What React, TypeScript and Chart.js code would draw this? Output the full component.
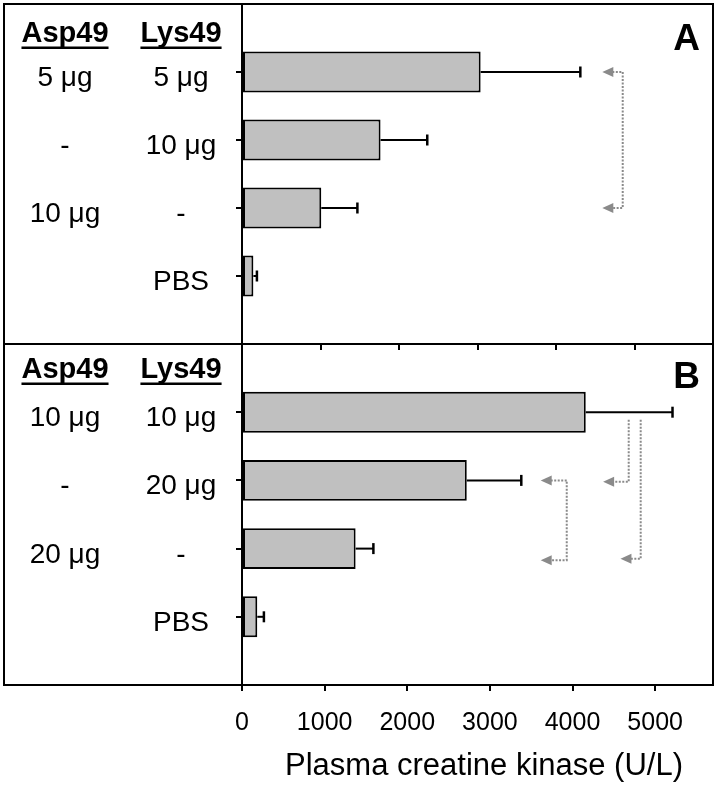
import React, { useEffect, useRef } from "react";
import { Chart, registerables } from "chart.js";

Chart.register(...registerables);

const FONT = '"Liberation Sans", Arial, Helvetica, sans-serif';

// ---------- data ----------
const headers = ["Asp49", "Lys49"];
const panelLetters = ["A", "B"];

const categoriesA = ["", "5/5", "0/10", "10/0", "PBS", ""];
const aspA = ["5 μg", "-", "10 μg", ""];
const lysA = ["5 μg", "10 μg", "-", "PBS"];
const meansA = [3040, 1765, 1010, 145];
const sdA = [1270, 595, 460, 45];

const categoriesB = ["", "10/10", "0/20", "20/0", "PBS", ""];
const aspB = ["10 μg", "-", "20 μg", ""];
const lysB = ["10 μg", "20 μg", "-", "PBS"];
const meansB = [4160, 2720, 1375, 185];
const sdB = [1050, 660, 215, 80];

const xMaxA = 6000;
const xMaxB = 5700;
const xTicksA = [0, 1000, 2000, 3000, 4000, 5000, 6000];
const xTicksB = [0, 1000, 2000, 3000, 4000, 5000];
const xTitle = "Plasma creatine kinase (U/L)";

// significance connectors: x = vertical line value, tip = arrow tip value,
// from/to = category positions (fractional), arrows at the ends
const bracketsA = [{ x: 4850, tip: 4590, from: 1, to: 3, arrowFrom: true, arrowTo: true }];
const bracketsB = [
  { x: 4680, tip: 4370, from: 1.11, to: 2.02, arrowFrom: false, arrowTo: true },
  { x: 4825, tip: 4580, from: 1.11, to: 3.15, arrowFrom: false, arrowTo: true },
  { x: 3930, tip: 3615, from: 2.0, to: 3.17, arrowFrom: true, arrowTo: true },
];

// ---------- styling ----------
const W = 719;
const FRAME_LEFT = 4;
const COL1_X = 65;
const COL2_X = 181;
const BAR_FILL = "#c0c0c0";
const ARROW_COLOR = "#8a8a8a";

type Bracket = { x: number; tip: number; from: number; to: number; arrowFrom: boolean; arrowTo: boolean };

interface PanelCfg {
  top: number;
  height: number;
  categories: string[];
  asp: string[];
  lys: string[];
  means: number[];
  sd: number[];
  xMax: number;
  xTicks: number[];
  brackets: Bracket[];
  letter: string;
  showAxisLabels: boolean;
  xAxisHeight: number;
  headerBase: number;
  letterBase: number;
  drawTop: boolean;
}

function panelPlugin(cfg: PanelCfg) {
  return {
    id: "panelDecor" + cfg.letter,
    afterDatasetsDraw(chart: any) {
      const ctx = chart.ctx;
      const xs = chart.scales.x;
      const ys = chart.scales.y;
      ctx.save();
      // error bars
      ctx.strokeStyle = "#000";
      cfg.means.forEach((m, i) => {
        const y = ys.getPixelForValue(i + 1);
        const x1 = xs.getPixelForValue(m);
        const x2 = xs.getPixelForValue(m + cfg.sd[i]);
        ctx.lineWidth = 2;
        ctx.beginPath();
        ctx.moveTo(x1, y);
        ctx.lineTo(x2, y);
        ctx.stroke();
        ctx.lineWidth = 2.5;
        ctx.beginPath();
        ctx.moveTo(x2, y - 5.5);
        ctx.lineTo(x2, y + 5.5);
        ctx.stroke();
      });
      // brackets
      const arrow = (tipX: number, y: number) => {
        ctx.fillStyle = ARROW_COLOR;
        ctx.beginPath();
        ctx.moveTo(tipX, y);
        ctx.lineTo(tipX + 11, y - 5);
        ctx.lineTo(tipX + 11, y + 5);
        ctx.closePath();
        ctx.fill();
      };
      cfg.brackets.forEach((b) => {
        const vx = xs.getPixelForValue(b.x);
        const tx = xs.getPixelForValue(b.tip);
        const y1 = ys.getPixelForValue(b.from);
        const y2 = ys.getPixelForValue(b.to);
        ctx.strokeStyle = ARROW_COLOR;
        ctx.lineWidth = 2;
        ctx.setLineDash([2, 1.5]);
        ctx.beginPath();
        if (b.arrowFrom) {
          ctx.moveTo(tx + 10, y1);
          ctx.lineTo(vx, y1);
        } else {
          ctx.moveTo(vx, y1);
        }
        ctx.lineTo(vx, y2);
        if (b.arrowTo) ctx.lineTo(tx + 10, y2);
        ctx.stroke();
        ctx.setLineDash([]);
        if (b.arrowFrom) arrow(tx, y1);
        if (b.arrowTo) arrow(tx, y2);
      });
      ctx.restore();
    },
    afterDraw(chart: any) {
      const ctx = chart.ctx;
      const ca = chart.chartArea;
      const ys = chart.scales.y;
      ctx.save();
      // frame
      ctx.strokeStyle = "#000";
      ctx.lineWidth = 2;
      ctx.beginPath();
      if (cfg.drawTop) {
        ctx.moveTo(FRAME_LEFT - 1, ca.top);
        ctx.lineTo(ca.right + 1, ca.top);
      }
      ctx.moveTo(FRAME_LEFT, ca.top);
      ctx.lineTo(FRAME_LEFT, ca.bottom);
      ctx.moveTo(ca.right, ca.top);
      ctx.lineTo(ca.right, ca.bottom);
      ctx.moveTo(FRAME_LEFT - 1, ca.bottom);
      ctx.lineTo(ca.right + 1, ca.bottom);
      ctx.stroke();

      // headers
      ctx.fillStyle = "#000";
      ctx.textBaseline = "alphabetic";
      ctx.textAlign = "center";
      ctx.font = `bold 29px ${FONT}`;
      const hb = ca.top + cfg.headerBase;
      [COL1_X, COL2_X].forEach((cx, k) => {
        const t = headers[k];
        ctx.fillText(t, cx, hb);
        const w = ctx.measureText(t).width;
        ctx.fillRect(cx - w / 2, hb + 4.5, w, 2.5);
      });
      // row labels
      ctx.font = `28px ${FONT}`;
      cfg.asp.forEach((t, i) => {
        const y = ys.getPixelForValue(i + 1) + 14;
        if (t) ctx.fillText(t, COL1_X, y);
        if (cfg.lys[i]) ctx.fillText(cfg.lys[i], COL2_X, y);
      });
      // panel letter
      ctx.font = `bold 37px ${FONT}`;
      ctx.textAlign = "right";
      ctx.fillText(cfg.letter, 700, ca.top + cfg.letterBase);
      // axis title
      if (cfg.showAxisLabels) {
        ctx.font = `31px ${FONT}`;
        ctx.textAlign = "center";
        ctx.fillText(xTitle, 484, ca.bottom + 90);
      }
      ctx.restore();
    },
  };
}

function Panel({ cfg }: { cfg: PanelCfg }) {
  const ref = useRef<HTMLCanvasElement | null>(null);
  useEffect(() => {
    if (!ref.current) return;
    const data = [null, ...cfg.means, null];
    const last = cfg.categories.length - 1;
    const chart = new Chart(ref.current, {
      type: "bar",
      data: {
        labels: cfg.categories,
        datasets: [
          {
            data: data as any,
            backgroundColor: BAR_FILL,
            borderColor: "#000",
            borderWidth: 2,
            borderSkipped: false,
            barPercentage: 0.6,
            categoryPercentage: 1,
          },
        ],
      },
      options: {
        indexAxis: "y",
        animation: false,
        responsive: false,
        maintainAspectRatio: false,
        devicePixelRatio: 1,
        layout: { padding: { top: cfg.drawTop ? 4 : 0, right: 6, left: 0, bottom: 0 } },
        plugins: { legend: { display: false }, tooltip: { enabled: false } },
        scales: {
          y: {
            type: "category",
            offset: false,
            afterFit: (s: any) => {
              s.width = 242;
            },
            grid: {
              offset: false,
              drawOnChartArea: false,
              drawTicks: true,
              tickLength: 6,
              lineWidth: 2,
              tickColor: (c: any) => (c.index === 0 || c.index === last ? "rgba(0,0,0,0)" : "#000"),
            },
            border: { display: true, color: "#000", width: 2 },
            ticks: { display: false, autoSkip: false },
          },
          x: {
            type: "linear",
            min: 0,
            max: cfg.xMax,
            afterBuildTicks: (s: any) => {
              s.ticks = cfg.xTicks.map((v) => ({ value: v }));
            },
            afterFit: (s: any) => {
              s.height = cfg.xAxisHeight;
            },
            grid: {
              drawOnChartArea: false,
              drawTicks: true,
              tickLength: 6,
              lineWidth: 2,
              tickColor: "#000",
            },
            border: { display: true, color: "#000", width: 2 },
            ticks: {
              display: cfg.showAxisLabels,
              autoSkip: false,
              color: "#000",
              padding: 17,
              maxRotation: 0,
              font: { family: FONT, size: 25 },
              callback: (v: any) => String(v),
            },
          },
        },
      },
      plugins: [panelPlugin(cfg)],
    });
    return () => chart.destroy();
  }, [cfg]);
  return (
    <canvas
      ref={ref}
      width={W}
      height={cfg.height}
      style={{ position: "absolute", left: 0, top: cfg.top, width: W, height: cfg.height }}
    />
  );
}

const cfgA: PanelCfg = {
  top: 0,
  height: 352,
  categories: categoriesA,
  asp: aspA,
  lys: lysA,
  means: meansA,
  sd: sdA,
  xMax: xMaxA,
  xTicks: xTicksA,
  brackets: bracketsA,
  letter: panelLetters[0],
  showAxisLabels: false,
  xAxisHeight: 8,
  headerBase: 38,
  letterBase: 46,
  drawTop: true,
};

const cfgB: PanelCfg = {
  top: 344,
  height: 442,
  categories: categoriesB,
  asp: aspB,
  lys: lysB,
  means: meansB,
  sd: sdB,
  xMax: xMaxB,
  xTicks: xTicksB,
  brackets: bracketsB,
  letter: panelLetters[1],
  showAxisLabels: true,
  xAxisHeight: 101,
  headerBase: 34,
  letterBase: 44,
  drawTop: false,
};

export default function App() {
  return (
    <div style={{ position: "absolute", left: 0, top: 0, width: W, height: 786, background: "#fff" }}>
      <Panel cfg={cfgA} />
      <Panel cfg={cfgB} />
    </div>
  );
}
